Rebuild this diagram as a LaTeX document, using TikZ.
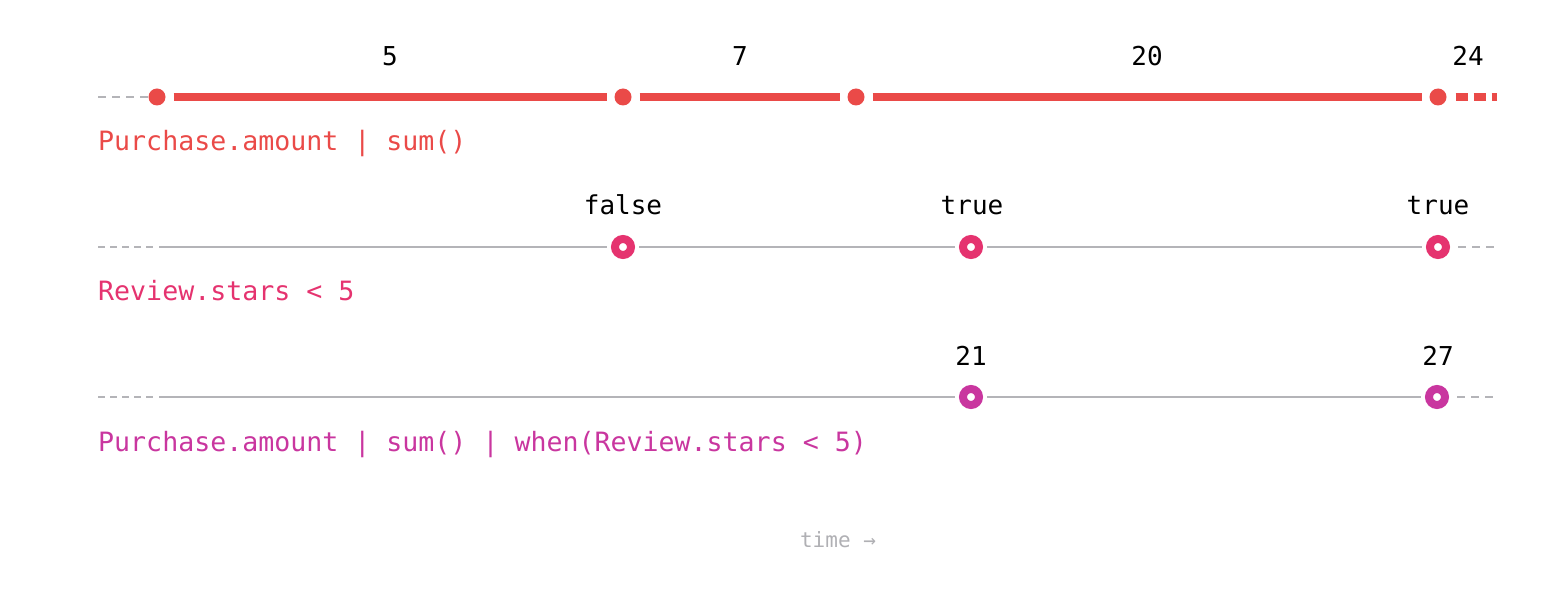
\documentclass[tikz,border=0pt]{standalone}
\usepackage{fontspec}
\setmonofont{DejaVu Sans Mono}
\definecolor{cred}{HTML}{EA4A48}
\definecolor{cpink}{HTML}{E5336F}
\definecolor{cmag}{HTML}{C9369F}
\definecolor{cgray}{HTML}{B4B4B8}
\definecolor{ctime}{HTML}{B0B0B4}
\tikzset{
  reddot/.style={circle,fill=cred,inner sep=0pt,minimum size=17pt,outer sep=8pt},
  ringdot/.style={circle,draw=#1,line width=8pt,fill=white,inner sep=0pt,minimum size=16pt,outer sep=8pt},
  redline/.style={cred,line width=8.5pt},
  reddash/.style={cred,line width=8.5pt,dash pattern=on 12pt off 6pt},
  grayline/.style={cgray,line width=1.8pt},
  graydash/.style={cgray,line width=2pt,dash pattern=on 8pt off 6pt},
  graydashb/.style={cgray,line width=2pt,dash pattern=on 7pt off 5pt},
  val/.style={font=\ttfamily\fontsize{26}{30}\selectfont,text=black,anchor=base},
  lbl/.style={font=\ttfamily\fontsize{26.6}{30}\selectfont,anchor=base west,inner sep=0pt},
}
\begin{document}
\begin{tikzpicture}[x=1pt,y=-1pt]
\useasboundingbox (0,0) rectangle (1566,612);
% row 1
\coordinate (s1) at (98,97);
\coordinate (s1b) at (150,97);
\node[reddot] (a1) at (157,97) {};
\node[reddot] (a2) at (623,97) {};
\node[reddot] (a3) at (856,97) {};
\node[reddot] (a4) at (1438,97) {};
\coordinate (e1) at (1497,97);
\draw[graydash] (s1) -- (s1b);
\draw[redline] (a1) -- (a2);
\draw[redline] (a2) -- (a3);
\draw[redline] (a3) -- (a4);
\draw[reddash] (a4.east) ++(1,0) coordinate (e1a) (e1a) -- (e1);
\node[val] (v1) at (390,66) {5};
\node[val] (v2) at (740,66) {7};
\node[val] (v3) at (1147,66) {20};
\node[val] (v4) at (1468,66) {24};
\node[lbl,text=cred] (t1) at (98,151) {Purchase.amount | sum()};
% row 2
\coordinate (s2) at (98,247);
\coordinate (s2b) at (155,247);
\node[ringdot=cpink] (b1) at (623,247) {};
\node[ringdot=cpink] (b2) at (971,247) {};
\node[ringdot=cpink] (b3) at (1438,247) {};
\coordinate (e2) at (1494,247);
\draw[graydashb] (s2) -- (s2b);
\coordinate (s2c) at (159,247);
\draw[grayline] (s2c) -- (b1);
\draw[grayline] (b1) -- (b2);
\draw[grayline] (b2) -- (b3);
\draw[graydash] (b3.east) ++(4,0) coordinate (e2a) (e2a) -- (e2);
\node[val] (w1) at (623,215) {false};
\node[val] (w2) at (972,215) {true};
\node[val] (w3) at (1438,215) {true};
\node[lbl,text=cpink] (t2) at (98,301) {Review.stars < 5};
% row 3
\coordinate (s3) at (98,397);
\coordinate (s3b) at (155,397);
\node[ringdot=cmag] (c1) at (971,397) {};
\node[ringdot=cmag] (c2) at (1437,397) {};
\coordinate (e3) at (1494,397);
\draw[graydashb] (s3) -- (s3b);
\coordinate (s3c) at (159,397);
\draw[grayline] (s3c) -- (c1);
\draw[grayline] (c1) -- (c2);
\draw[graydash] (c2.east) ++(4,0) coordinate (e3a) (e3a) -- (e3);
\node[val] (u1) at (971,365) {21};
\node[val] (u2) at (1438,365) {27};
\node[lbl,text=cmag] (t3) at (98,451) {Purchase.amount | sum() | when(Review.stars < 5)};
% time
\node[font=\ttfamily\fontsize{21}{24}\selectfont,text=ctime,anchor=base] (tm) at (838,547) {time →};
\end{tikzpicture}
\end{document}
